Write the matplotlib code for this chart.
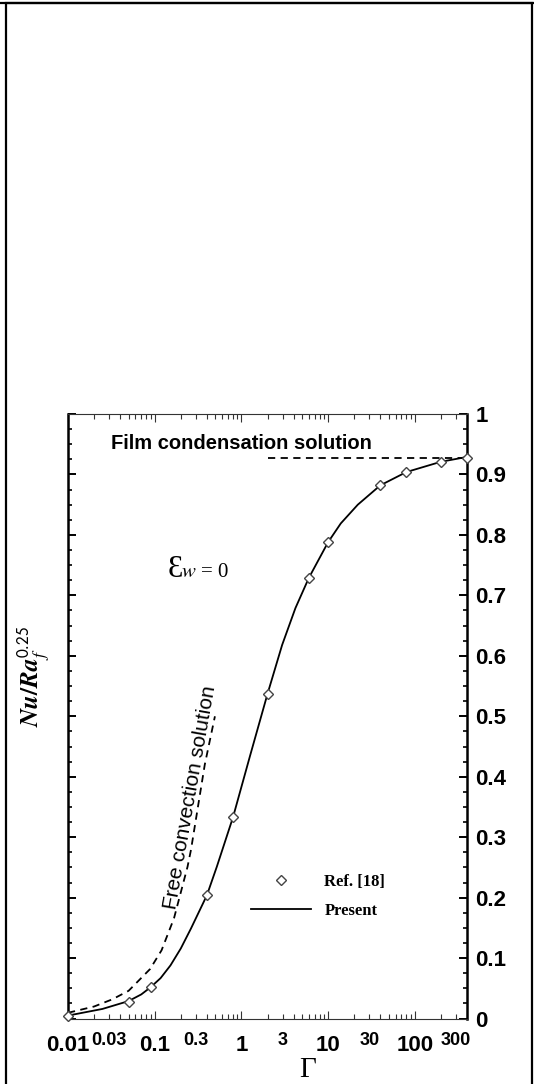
"""
Nu/Ra_f^0.25 versus Gamma, epsilon_w = 0
Present solution compared with Ref. [18] and the two limiting solutions.
"""

import matplotlib
matplotlib.use("Agg")
import matplotlib.pyplot as plt
from matplotlib.ticker import FixedLocator, LogLocator, MultipleLocator, NullFormatter
from matplotlib.patches import Rectangle

# ============ DATA ============
# present solution (solid line)
present_gamma = [0.01, 0.025, 0.05, 0.07, 0.09, 0.117, 0.152, 0.2, 0.262, 0.4, 0.52, 0.8,
                 1.26, 2.0, 2.95, 4.2, 6.0, 10.0, 14.0, 22.0, 40.0, 80.0, 200.0, 400.0]
present_nu = [0.005, 0.016, 0.029, 0.040, 0.052, 0.067, 0.088, 0.116, 0.149, 0.204, 0.251, 0.333,
              0.435, 0.537, 0.618, 0.679, 0.729, 0.788, 0.819, 0.850, 0.882, 0.904, 0.921, 0.929]

# Ref. [18] (open diamonds)
ref_gamma = [0.01, 0.05, 0.09, 0.4, 0.8, 2.0, 6.0, 10.0, 40.0, 80.0, 200.0, 400.0]
ref_nu = [0.005, 0.028, 0.052, 0.204, 0.333, 0.537, 0.728, 0.788, 0.883, 0.904, 0.921, 0.928]

# free convection limit (dashed)
free_gamma = [0.01, 0.02, 0.0326, 0.05, 0.0885, 0.12, 0.167, 0.239, 0.262, 0.378, 0.495]
free_nu = [0.0096, 0.02, 0.032, 0.046, 0.082, 0.113, 0.166, 0.251, 0.279, 0.42, 0.5]

# film condensation limit (dashed, horizontal)
film_gamma = [2.0, 400.0]
film_nu = [0.927, 0.927]

x_major = [0.01, 0.1, 1, 10, 100]
x_major_labels = ["0.01", "0.1", "1", "10", "100"]
x_mid = [0.03, 0.3, 3, 30, 300]
x_mid_labels = ["0.03", "0.3", "3", "30", "300"]
y_ticks = [0, 0.1, 0.2, 0.3, 0.4, 0.5, 0.6, 0.7, 0.8, 0.9, 1.0]
y_labels = ["0", "0.1", "0.2", "0.3", "0.4", "0.5", "0.6", "0.7", "0.8", "0.9", "1"]

# ============ FIGURE ============
W, H = 534, 1084
fig = plt.figure(figsize=(W / 100, H / 100), dpi=100)
plt.rcParams["mathtext.fontset"] = "stix"

# axes box in pixels: x 68..467, y 414..1018
ax = fig.add_axes([68 / W, 1 - 1018.6 / H, 399 / W, 604.6 / H])
ax.set_xscale("log")
ax.set_xlim(0.01, 400)
ax.set_ylim(0, 1)

sans = "Liberation Sans"
serif = "Liberation Serif"

ref_line, = ax.plot(ref_gamma, ref_nu, ls="none", marker="D", ms=5.6, mfc="white",
                    mec="#444444", mew=1.0, label="Ref. [18]", zorder=4, clip_on=False)
present_line, = ax.plot(present_gamma, present_nu, color="black", lw=1.3, label="Present",
                        zorder=3)
ax.plot(free_gamma, free_nu, color="black", lw=1.3, ls=(0, (4, 3)), zorder=2)
ax.plot(film_gamma, film_nu, color="black", lw=1.3, ls=(0, (4, 3)), zorder=2)

# ============ AXES STYLE ============
for side in ["left", "right"]:
    ax.spines[side].set_linewidth(1.8)
for side in ["top", "bottom"]:
    ax.spines[side].set_linewidth(0.8)
    ax.spines[side].set_color("#333333")

ax.xaxis.set_major_locator(FixedLocator(x_major))
ax.xaxis.set_minor_locator(LogLocator(base=10, subs=range(2, 10), numticks=20))
ax.xaxis.set_minor_formatter(NullFormatter())
ax.set_xticks(x_major, x_major_labels)
ax.tick_params(axis="x", which="both", direction="in", top=True, bottom=True,
               width=0.8, color="#333333")
ax.tick_params(axis="x", which="major", length=6, pad=12)
ax.tick_params(axis="x", which="minor", length=3.5)

ax.set_yticks(y_ticks, y_labels)
ax.yaxis.set_minor_locator(MultipleLocator(0.025))
ax.tick_params(axis="y", which="both", direction="in", left=True, right=True,
               labelleft=False, labelright=True)
ax.tick_params(axis="y", which="major", length=6, width=1.4, pad=6)
ax.tick_params(axis="y", which="minor", length=3, width=1.2)

for lab in ax.get_xticklabels() + ax.get_yticklabels():
    lab.set_fontfamily(sans)
    lab.set_fontweight("bold")
    lab.set_fontsize(16)

# smaller raised labels between decades
for xv, txt in zip(x_mid, x_mid_labels):
    ax.text(xv, -0.022, txt, transform=ax.get_xaxis_transform(), ha="center", va="top",
            fontsize=13, fontweight="bold", family=sans)

# ============ ANNOTATIONS ============
ax.text(0.0314, 0.952, "Film condensation solution", ha="left", va="center",
        fontsize=14.5, fontweight="bold", family=sans)
ax.text(0.257, 0.366, "Free convection solution", rotation=80, rotation_mode="anchor",
        ha="center", va="center", fontsize=15, family=sans)
ax.text(0.1397, 0.742, "Ɛ", ha="left", va="center", fontsize=22, family=serif)
ax.text(0.2, 0.738, "$w$ = 0", ha="left", va="center", fontsize=15, family=serif)

ax.legend(handles=[ref_line, present_line], loc="center left",
          bbox_to_anchor=(0.4586, 0.202), frameon=False,
          borderpad=0, borderaxespad=0, handlelength=3.6, handletextpad=0.8,
          labelspacing=0.8, prop={"family": serif, "weight": "bold", "size": 12})

fig.text(34 / W, 1 - 677 / H, r"$\boldsymbol{Nu/Ra}_{\mathit{f}}^{\mathsf{0.25}}$",
         rotation=90, ha="center", va="center", fontsize=18)
# Gamma sits right at the lower edge, as in the source
fig.text(308 / W, 1 - 1083 / H, "Γ", ha="center", va="bottom", fontsize=21, family=serif)

# outer frame
fig.add_artist(Rectangle((6 / W, -0.02), 526 / W, 1.02 - 2.5 / H, transform=fig.transFigure,
                         fill=False, lw=1.6, ec="black"))
fig.add_artist(Rectangle((0, 1 - 2.5 / H), 1, 0, transform=fig.transFigure,
                         fill=False, lw=1.6, ec="black"))

fig.savefig("out.png", dpi=100)
